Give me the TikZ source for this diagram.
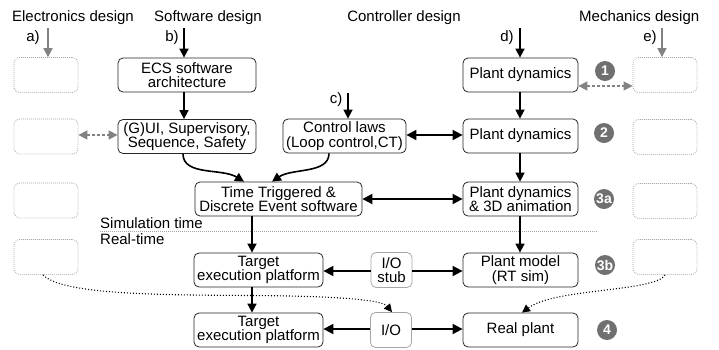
\documentclass[tikz,border=0pt]{standalone}
\usepackage{fontspec}
\setmainfont{Liberation Sans}
\usetikzlibrary{arrows.meta}
\definecolor{ghostgray}{RGB}{165,165,165}
\definecolor{arrgray}{RGB}{130,130,130}
\definecolor{badgegray}{RGB}{112,112,112}
\tikzset{
  txt/.style={font=\fontsize{15}{14.5}\selectfont, inner sep=0pt},
  blk/.style={txt, draw=black!85, line width=0.8pt, rounded corners=5pt, align=center,
              minimum height=34pt, minimum width=115pt},
  iobox/.style={txt, draw=black!35, line width=0.8pt, rounded corners=5pt, align=center,
              minimum height=35pt, minimum width=41pt},
  ghost/.style={draw=ghostgray, dash pattern=on 0.8pt off 1.2pt, line width=0.8pt, rounded corners=6pt,
              minimum width=64pt, minimum height=35pt, inner sep=0pt},
  arr/.style={-{Triangle[length=9pt,width=9pt]}, line width=1.6pt, black},
  darr/.style={{Triangle[length=10pt,width=10pt]}-{Triangle[length=10pt,width=10pt]}, line width=1.8pt, black},
  sarr/.style={-{Triangle[length=10pt,width=10pt]}, line width=1.8pt, black},
  garr/.style={-{Triangle[length=9pt,width=9pt]}, line width=1.6pt, arrgray},
  gdarr/.style={{Triangle[length=9pt,width=9pt]}-{Triangle[length=9pt,width=9pt]}, line width=1.4pt, arrgray, dash pattern=on 3pt off 2pt},
  dotarr/.style={-{Triangle[length=8pt,width=8pt]}, line width=1.1pt, black, dash pattern=on 1pt off 2pt},
  badge/.style={circle, fill=badgegray, text=white, inner sep=0pt, minimum size=20pt,
              font=\fontsize{14}{14}\selectfont\bfseries},
}
\begin{document}
\begin{tikzpicture}[x=1pt,y=-1pt]
\useasboundingbox (0,0) rectangle (719,349);
\clip (0,0) rectangle (719,349);
% headers
\node[txt] (hel) at (73,18) {Electronics design};
\node[txt] (hsw) at (208,18) {Software design};
\node[txt] (hct) at (404,18) {Controller design};
\node[txt,anchor=west] (hme) at (579,18) {Mechanics design};
% ghost boxes left
\node[ghost] (gl1) at (46,75) {};
\node[ghost] (gl2) at (46,136.5) {};
\node[ghost] (gl3) at (46,200.5) {};
\node[ghost] (gl4) at (46,257) {};
% ghost boxes right
\node[ghost] (gr1) at (665,75) {};
\node[ghost] (gr2) at (665,137) {};
\node[ghost] (gr3) at (665,201) {};
\node[ghost] (gr4) at (665,257) {};
% main blocks
\node[blk, minimum width=138pt] (ecs) at (187,75) {ECS software\\architecture};
\node[blk, minimum width=138pt] (gui) at (187,136.5) {(G)UI, Supervisory,\\Sequence, Safety};
\node[blk, minimum width=123pt] (ctrl) at (344.5,136) {Control laws\\(Loop control,CT)};
\node[blk] (pd1) at (520.5,75) {Plant dynamics};
\node[blk] (pd2) at (520.5,136) {Plant dynamics};
\node[blk] (pd3) at (520.5,199) {Plant dynamics\\\& 3D animation};
\node[blk, minimum width=167pt] (tt) at (278.5,199) {Time Triggered \&\\Discrete Event software};
\node[blk, minimum width=129pt] (te1) at (258.5,270) {Target\\execution platform};
\node[iobox] (stub) at (391.5,270) {I/O\\stub};
\node[blk] (pm) at (520.5,270) {Plant model\\(RT sim)};
\node[blk, minimum width=129pt] (te2) at (258.5,330) {Target\\execution platform};
\node[iobox] (io) at (391,330) {I/O};
\node[blk] (rp) at (520.5,330) {Real plant};
% badges
\node[badge] (b1) at (605,71) {1};
\node[badge] (b2) at (604,133) {2};
\node[badge] (b3a) at (604,199) {3a};
\node[badge] (b3b) at (605,265) {3b};
\node[badge] (b4) at (607,330) {4};
% separator
\coordinate (sepl) at (100,231);
\coordinate (sepr) at (598,231);
\draw[ghostgray, dash pattern=on 0.8pt off 1.2pt, line width=0.8pt] (sepl) -- (sepr);
\node[txt, anchor=south west] (sim) at (100,229) {Simulation time};
\node[txt, anchor=north west] (rt) at (100,233) {Real-time};
% input arrows
\coordinate (sa) at (48,28);
\coordinate (sb) at (184,28);
\coordinate (sc) at (348,93);
\coordinate (sd) at (520,28);
\coordinate (se) at (662,28);
\draw[garr] (sa) -- (sa |- gl1.north);
\draw[arr] (sb) -- (sb |- ecs.north);
\draw[arr] (sc) -- (sc |- ctrl.north);
\draw[arr] (sd) -- (sd |- pd1.north);
\draw[garr] (se) -- (se |- gr1.north);
\node[txt] (la) at (33,38) {a)};
\node[txt] (lb) at (172,38) {b)};
\node[txt] (lc) at (336,100) {c)};
\node[txt] (ld) at (507,38) {d)};
\node[txt] (le) at (650,38) {e)};
% vertical flows
\draw[arr] (ecs.south -| sb) -- (gui.north -| sb);
\draw[arr] (pd1.south -| sd) -- (pd2.north -| sd);
\draw[arr] (pd2.south -| sd) -- (pd3.north -| sd);
\draw[arr] (pd3.south -| sd) -- (pm.north -| sd);
\coordinate (vx) at (252,0);
\draw[arr] (tt.south -| vx) -- (te1.north -| vx);
\draw[arr] (te1.south -| vx) -- (te2.north -| vx);
% curves into tt
\draw[arr] (gui.south -| 183,0) .. controls (183,176) and (222,168) .. (tt.north -| 244,0);
\draw[arr] (ctrl.south -| 329,0) .. controls (329,174) and (292,168) .. (tt.north -| 272,0);
% horizontal double arrows
\draw[darr] (ctrl.east |- 0,135) -- (pd2.west |- 0,135);
\draw[darr] (tt.east) -- (pd3.west);
\draw[sarr] (stub.west |- 0,271) -- (te1.east |- 0,271);
\draw[sarr] (stub.east |- 0,271) -- (pm.west |- 0,271);
\draw[sarr] (io.west |- 0,329) -- (te2.east |- 0,329);
\draw[sarr] (io.east |- 0,329) -- (rp.west |- 0,329);
% gray dashed
\draw[gdarr] (pd1.east |- 0,86) -- (gr1.west |- 0,86);
\draw[gdarr] (gl2.east |- 0,135) -- (gui.west |- 0,135);
% dotted curves
\draw[dotarr] (gl4.south -| 43,0) .. controls (62,294) and (150,295) .. (250,295.5)
   .. controls (340,296) and (382,300) .. (io.north -| 392,0);
\draw[dotarr] (gr4.south -| 665,0) .. controls (655,292) and (555,288) .. (rp.north -| 522,0);
\end{tikzpicture}
\end{document}
